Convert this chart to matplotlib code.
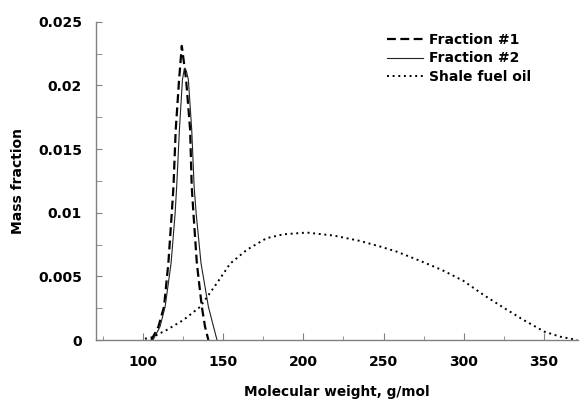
import matplotlib
matplotlib.use("Agg")
import matplotlib.pyplot as plt
from matplotlib.ticker import MultipleLocator

plt.rcParams['font.family'] = ['DejaVu Sans']

# Fraction #1 (dashed)
mw_f1 = [105, 109.4, 112.9, 115.6, 117.7, 118.8, 120.2, 122.3, 124.0,
         126.7, 129.2, 130.2, 131.3, 133.4, 136.5, 138.5, 140.6]
mf_f1 = [0, 0.00105, 0.00262, 0.00603, 0.0099, 0.01205, 0.0165, 0.02044, 0.0231,
         0.02044, 0.0165, 0.01205, 0.0099, 0.00603, 0.00262, 0.00105, 0]

# Fraction #2 (solid)
mw_f2 = [106, 110.4, 113.6, 117.3, 119.8, 120.8, 122.5, 124.4, 125.3, 126.0, 126.9,
         128.1, 130.2, 131.7, 133.0, 136.0, 140.6, 143.8, 146.0]
mf_f2 = [0, 0.00105, 0.00262, 0.00603, 0.0099, 0.01205, 0.0165, 0.02044, 0.0211, 0.02136, 0.0211,
         0.02044, 0.0165, 0.01205, 0.0099, 0.00603, 0.00262, 0.00105, 0]

# Shale fuel oil (dotted)
mw_sfo = [101, 105.2, 114.6, 125, 135.4, 145.9, 154.2, 164.6, 177, 187.5, 202, 219,
          235.4, 247.9, 258.3, 273, 286.5, 300, 312.5, 325, 337.5, 350.6, 360.4, 371]
mf_sfo = [0.0001, 0.0002, 0.00079, 0.00157, 0.0026, 0.00446, 0.006, 0.00708, 0.0080,
          0.0083, 0.00844, 0.0082, 0.00778, 0.00734, 0.00694, 0.00621, 0.0055, 0.00464,
          0.00354, 0.00254, 0.00157, 0.00065, 0.00026, 0.0]

labels = ["Fraction #1", "Fraction #2", "Shale fuel oil"]
xticks = [100, 150, 200, 250, 300, 350]
yticks = [0, 0.005, 0.01, 0.015, 0.02, 0.025]
yticklabels = ["0", "0.005", "0.01", "0.015", "0.02", "0.025"]

fig = plt.figure(figsize=(5.82, 3.99), dpi=100)
ax = fig.add_axes([96/582, 59/399, (578-96)/582, (340-21.7)/399])

ax.plot(mw_f1, mf_f1, color='black', lw=1.6, linestyle=(0, (4, 2)), label=labels[0])
ax.plot(mw_f2, mf_f2, color='#222222', lw=0.8, linestyle='-', label=labels[1])
ax.plot(mw_sfo, mf_sfo, color='black', lw=1.4, linestyle=(0, (1, 1.9)), label=labels[2])

ax.set_xlim(70.4, 371.5)
ax.set_ylim(0, 0.025)
ax.set_xticks(xticks)
ax.set_xticklabels([str(t) for t in xticks])
ax.xaxis.set_minor_locator(MultipleLocator(25))
ax.set_yticks(yticks)
ax.set_yticklabels(yticklabels)
ax.yaxis.set_minor_locator(MultipleLocator(0.0025))

for s in ['top', 'right']:
    ax.spines[s].set_visible(False)
for s in ['left', 'bottom']:
    ax.spines[s].set_color('#808080')
    ax.spines[s].set_linewidth(1.0)

ax.tick_params(axis='both', which='both', direction='in', colors='#808080',
               labelcolor='black')
ax.tick_params(axis='x', which='major', length=5, pad=11, labelsize=10)
ax.tick_params(axis='x', which='minor', length=3)
ax.tick_params(axis='y', which='major', length=4, pad=10, labelsize=10)
ax.tick_params(axis='y', which='minor', length=4)
for lab in ax.get_xticklabels() + ax.get_yticklabels():
    lab.set_fontweight('bold')

ax.set_xlabel("Molecular weight, g/mol", fontsize=9.8, fontweight='bold')
ax.set_ylabel("Mass fraction", fontsize=10, fontweight='bold')
ax.xaxis.set_label_coords(0.5, -0.14)
ax.yaxis.set_label_coords(-0.148, 0.5)

leg = ax.legend(loc='upper left', bbox_to_anchor=(387/582, 1 - 33/399),
                bbox_transform=fig.transFigure, frameon=False,
                prop={'size': 10, 'weight': 'bold'}, handlelength=2.6,
                handletextpad=0.45, labelspacing=0.32, borderaxespad=0, borderpad=0)

fig.savefig("out.png", dpi=100)
